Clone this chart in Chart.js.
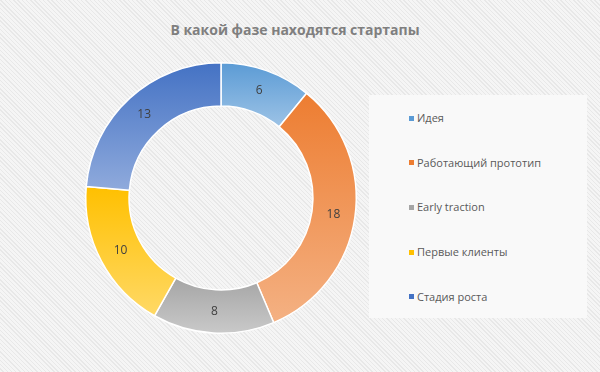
<!DOCTYPE html>
<html>
<head>
<meta charset="utf-8">
<script src="https://cdn.jsdelivr.net/npm/chart.js@4"></script>
<style>
  html, body { margin: 0; padding: 0; }
  body {
    width: 600px; height: 372px; position: relative; overflow: hidden;
    background: #f2f2f2 repeating-linear-gradient(45deg, #f5f5f5 0px, #f5f5f5 2px, #e8e8e8 2px, #e8e8e8 3px);
    font-family: "Open Sans", "DejaVu Sans", sans-serif;
  }
  #title {
    position: absolute; left: 0; top: 20px; width: 590px; text-align: center;
    font-size: 14px; font-weight: bold; color: #7f7f7f;
  }
  #legendBox {
    position: absolute; left: 369px; top: 95px; width: 218px; height: 223px;
    background: #f9f9f9;
  }
  .item { position: absolute; left: 40px; font-size: 11px; color: #595959; white-space: nowrap; }
  .item span.box { display: inline-block; width: 5px; height: 5px; margin-right: 3px; vertical-align: middle; position: relative; top: -1px; }
  #chartWrap { position: absolute; left: 0; top: 0; width: 600px; height: 372px; }
</style>
</head>
<body>
<div id="title">В какой фазе находятся стартапы</div>
<div id="legendBox"></div>
<div id="chartWrap"><canvas id="donut"></canvas></div>
<script>
  // Data
  const stages = ["Идея", "Работающий прототип", "Early traction", "Первые клиенты", "Стадия роста"];
  const counts = [6, 18, 8, 10, 13];
  const darkColors = ["#5b9bd5", "#ed7d31", "#a5a5a5", "#ffc000", "#4472c4"];
  const lightColors = ["#9dc3e6", "#f4b183", "#c9c9c9", "#ffd966", "#8faadc"];

  // HTML legend
  const legendBox = document.getElementById('legendBox');
  stages.forEach((name, i) => {
    const div = document.createElement('div');
    div.className = 'item';
    div.style.top = (15 + i * 44.7) + 'px';
    div.innerHTML = `<span class="box" style="background:${darkColors[i]}"></span>${name}`;
    legendBox.appendChild(div);
  });

  // gradient per segment over its own vertical extent
  const segmentGradients = {
    id: 'segmentGradients',
    beforeDatasetsDraw(chart) {
      const ctx = chart.ctx;
      chart.getDatasetMeta(0).data.forEach((arc, i) => {
        const { x, y, startAngle, endAngle, outerRadius, innerRadius } = arc;
        let minY = Infinity, maxY = -Infinity;
        for (let k = 0; k <= 60; k++) {
          const a = startAngle + (endAngle - startAngle) * k / 60;
          [outerRadius, innerRadius].forEach(r => {
            const py = y + Math.sin(a) * r;
            minY = Math.min(minY, py);
            maxY = Math.max(maxY, py);
          });
        }
        const g = ctx.createLinearGradient(0, minY, 0, maxY);
        g.addColorStop(0, darkColors[i]);
        g.addColorStop(1, lightColors[i]);
        arc.options.backgroundColor = g;
      });
    }
  };

  // value labels in the middle of each segment
  const valueLabels = {
    id: 'valueLabels',
    afterDatasetsDraw(chart) {
      const ctx = chart.ctx;
      const meta = chart.getDatasetMeta(0);
      ctx.save();
      ctx.font = '12px "Open Sans", "DejaVu Sans", sans-serif';
      ctx.fillStyle = '#404040';
      ctx.textAlign = 'center';
      ctx.textBaseline = 'middle';
      meta.data.forEach((arc, i) => {
        const mid = (arc.startAngle + arc.endAngle) / 2;
        const r = (arc.outerRadius + arc.innerRadius) / 2;
        ctx.fillText(String(counts[i]), arc.x + Math.cos(mid) * r, arc.y + Math.sin(mid) * r);
      });
      ctx.restore();
    }
  };

  new Chart(document.getElementById('donut'), {
    type: 'doughnut',
    data: {
      labels: stages,
      datasets: [{
        data: counts,
        backgroundColor: darkColors,
        borderColor: '#ffffff',
        borderWidth: 1.5
      }]
    },
    options: {
      responsive: true,
      maintainAspectRatio: false,
      animation: false,
      cutout: '68%',
      layout: { padding: { left: 85, right: 243, top: 62, bottom: 38 } },
      plugins: {
        legend: { display: false },
        tooltip: { enabled: false }
      }
    },
    plugins: [segmentGradients, valueLabels]
  });
</script>
</body>
</html>
